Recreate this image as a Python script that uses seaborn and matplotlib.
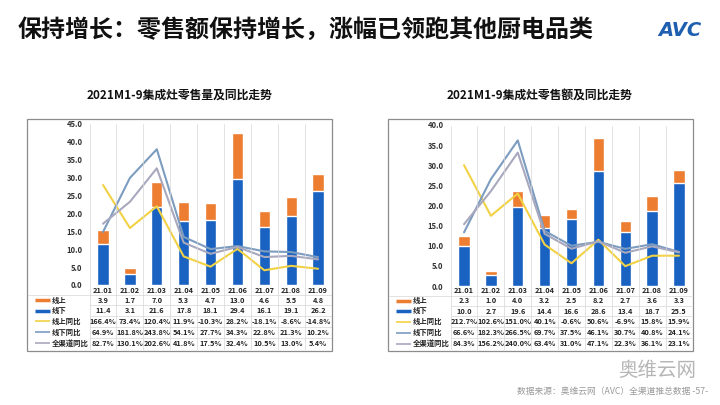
import numpy as np
import pandas as pd
import matplotlib
matplotlib.use("Agg")
import matplotlib.pyplot as plt
from matplotlib.patches import Rectangle
import seaborn as sns

sns.set_theme(style="white")
plt.rcParams['font.family'] = ['Noto Sans CJK SC', 'DejaVu Sans']
plt.rcParams['axes.unicode_minus'] = False

# ---------------- data ----------------
months = ["21.01", "21.02", "21.03", "21.04", "21.05", "21.06", "21.07", "21.08", "21.09"]
row_names = ["线上", "线下", "线上同比", "线下同比", "全渠道同比"]

vol_online = [3.9, 1.7, 7.0, 5.3, 4.7, 13.0, 4.6, 5.5, 4.8]
vol_offline = [11.4, 3.1, 21.6, 17.8, 18.1, 29.4, 16.1, 19.1, 26.2]
vol_online_yoy = [166.4, 73.4, 120.4, 11.9, -10.3, 28.2, -18.1, -8.6, -14.8]
vol_offline_yoy = [64.9, 181.8, 243.8, 54.1, 27.7, 34.3, 22.8, 21.3, 10.2]
vol_all_yoy = [82.7, 130.1, 202.6, 41.8, 17.5, 32.4, 10.5, 13.0, 5.4]

amt_online = [2.3, 1.0, 4.0, 3.2, 2.5, 8.2, 2.7, 3.6, 3.3]
amt_offline = [10.0, 2.7, 19.6, 14.4, 16.6, 28.6, 13.4, 18.7, 25.5]
amt_online_yoy = [212.7, 102.6, 151.0, 40.1, -0.6, 50.6, -6.9, 15.8, 15.9]
amt_offline_yoy = [66.6, 182.3, 266.5, 69.7, 37.5, 46.1, 30.7, 40.8, 24.1]
amt_all_yoy = [84.3, 156.2, 240.0, 63.4, 31.0, 47.1, 22.3, 36.1, 23.1]

title = "保持增长：零售额保持增长，涨幅已领跑其他厨电品类"
sub_left = "2021M1-9集成灶零售量及同比走势"
sub_right = "2021M1-9集成灶零售额及同比走势"
source = "数据来源：奥维云网（AVC）全渠道推总数据 -57-"

C_ON = "#ED7D31"
C_OFF = "#1A62C2"
C_ONYOY = "#F2D244"
C_OFFYOY = "#7C9CC0"
C_ALLYOY = "#A8A8BE"

W, H = 720, 405
fig = plt.figure(figsize=(7.2, 4.05), dpi=100)
fig.patch.set_facecolor("white")


def fr(x0, y0, x1, y1):
    # pixel box -> figure fraction rect
    return [x0 / W, 1 - y1 / H, (x1 - x0) / W, (y1 - y0) / H]


def panel(box, plot_px, ymax, online, offline, on_yoy, off_yoy, all_yoy, subtitle, sub_x):
    bx0, by0, bx1, by1 = box
    fig.patches.append(Rectangle((bx0 / W, 1 - by1 / H), (bx1 - bx0) / W, (by1 - by0) / H,
                                 transform=fig.transFigure, fill=False,
                                 edgecolor="#8C8C8C", lw=0.9, zorder=0))
    fig.text(sub_x / W, 1 - 95 / H, subtitle, ha="center", va="center",
             fontsize=8.5, fontweight="bold", color="#111111")

    px0, py0, px1, py1 = plot_px
    ax = fig.add_axes(fr(px0, py0, px1, py1))
    df = pd.DataFrame({"m": months, "on": online, "off": offline})
    df["tot"] = df["on"] + df["off"]
    sns.barplot(data=df, x="m", y="tot", color=C_ON, width=0.42, saturation=1,
                ax=ax, order=months)
    sns.barplot(data=df, x="m", y="off", color=C_OFF, width=0.42, saturation=1,
                ax=ax, order=months)
    ax.set_xlim(-0.5, len(months) - 0.5)
    ax.set_ylim(0, ymax)
    ax.set_yticks(np.arange(0, ymax + 0.1, 5))
    ax.set_yticklabels([f"{v:.1f}" for v in np.arange(0, ymax + 0.1, 5)],
                       fontsize=5.5, fontweight="bold", color="#333333")
    ax.tick_params(axis="y", length=0, pad=5)
    ax.set_xticks([])
    ax.set_xlabel("")
    ax.set_ylabel("")
    for s in ax.spines.values():
        s.set_visible(False)
    ax.patch.set_alpha(0)

    ax2 = ax.twinx()
    xs = np.arange(len(months))
    sns.lineplot(x=xs, y=on_yoy, color=C_ONYOY, lw=1.5, ax=ax2)
    sns.lineplot(x=xs, y=off_yoy, color=C_OFFYOY, lw=1.5, ax=ax2)
    sns.lineplot(x=xs, y=all_yoy, color=C_ALLYOY, lw=1.5, ax=ax2)
    ax2.set_ylim(-50, 300)
    ax2.set_xlim(-0.5, len(months) - 0.5)
    ax2.set_yticks([])
    ax2.set_ylabel("")
    for s in ax2.spines.values():
        s.set_visible(False)

    # ---- table ----
    unit = (px1 - px0) / len(months)
    lab_units = (px0 - bx0 - 1) / unit
    tx0 = -0.5 - lab_units
    tax = fig.add_axes(fr(bx0 + 1, py0 + 1, px1, by1 - 1))
    tax.set_xlim(tx0, len(months) - 0.5)
    tax.set_ylim(by1 - 1, py0 + 1)
    tax.axis("off")
    row_y = [290.5, 300.5, 311, 321.5, 332.5, 343.5]
    bounds = [py0 + 1, 295.5, 305.5, 316, 327, 338, by1 - 1]
    gc = "#D6D6D6"
    for b in bounds[1:-1]:
        tax.plot([-0.5, len(months) - 0.5], [b, b], color=gc, lw=0.5)
    tax.plot([tx0, -0.5], [bounds[1], bounds[1]], color=gc, lw=0.5)
    for i in range(len(months) + 1):
        tax.plot([i - 0.5, i - 0.5], [bounds[0], bounds[-1]], color=gc, lw=0.5)
    tfs = 5.3
    for i, m in enumerate(months):
        tax.text(i, row_y[0], m, ha="center", va="center", fontsize=tfs,
                 fontweight="bold", color="#222222")
    rows = [[f"{v:.1f}" for v in online], [f"{v:.1f}" for v in offline],
            [f"{v:.1f}%" for v in on_yoy], [f"{v:.1f}%" for v in off_yoy],
            [f"{v:.1f}%" for v in all_yoy]]
    for r, vals in enumerate(rows):
        for i, v in enumerate(vals):
            tax.text(i, row_y[r + 1], v, ha="center", va="center", fontsize=tfs,
                     fontweight="bold", color="#222222")
    samples = [(C_ON, 2.5), (C_OFF, 2.5), (C_ONYOY, 1.2), (C_OFFYOY, 1.2), (C_ALLYOY, 1.2)]
    sx0 = tx0 + 7 / unit
    sx1 = tx0 + 22 / unit
    for r, (name, (c, lw)) in enumerate(zip(row_names, samples)):
        tax.plot([sx0, sx1], [row_y[r + 1], row_y[r + 1]], color=c, lw=lw,
                 solid_capstyle="butt")
        tax.text(sx1 + 2 / unit, row_y[r + 1], name, ha="left", va="center",
                 fontsize=5.3, fontweight="bold", color="#222222")
    return ax


panel((27, 119, 332, 351), (89.6, 123.3, 331.5, 285), 45,
      vol_online, vol_offline, vol_online_yoy, vol_offline_yoy, vol_all_yoy,
      sub_left, 180)
panel((388, 119, 693, 351), (450.6, 125, 692.4, 286), 40,
      amt_online, amt_offline, amt_online_yoy, amt_offline_yoy, amt_all_yoy,
      sub_right, 540)

fig.text(18 / W, 1 - 30 / H, title, ha="left", va="center", fontsize=17.3,
         fontweight="bold", color="#111111")
fig.text(680 / W, 1 - 30 / H, "AVC", ha="center", va="center", fontsize=14,
         fontweight="bold", fontstyle="italic", color="#1F5FAF",
         family=["DejaVu Sans"])
fig.text(696 / W, 1 - 371 / H, "奥维云网", ha="right", va="center", fontsize=14,
         color="#B5B5B5")
fig.text(708 / W, 1 - 391 / H, source, ha="right", va="center", fontsize=6.3,
         color="#9A9A9A")

fig.savefig("out.png", dpi=100, facecolor="white")
